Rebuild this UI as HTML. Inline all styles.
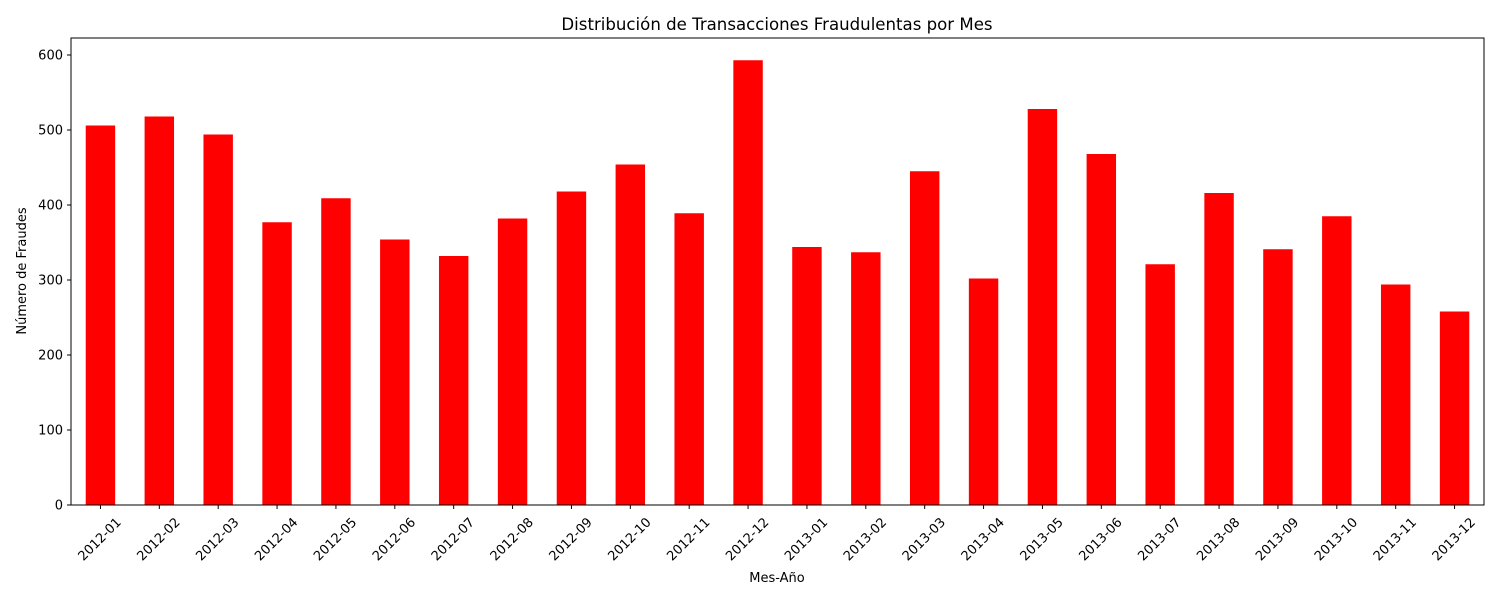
<!DOCTYPE html>
<html><head><meta charset="utf-8"><style>
html,body{margin:0;padding:0;background:#fff;}
svg{display:block;font-family:"DejaVu Sans","Liberation Sans",sans-serif;}
</style></head><body>
<svg id="chart" width="1500" height="600"></svg>
<script>
const categories=["2012-01","2012-02","2012-03","2012-04","2012-05","2012-06","2012-07","2012-08","2012-09","2012-10","2012-11","2012-12","2013-01","2013-02","2013-03","2013-04","2013-05","2013-06","2013-07","2013-08","2013-09","2013-10","2013-11","2013-12"];
const values=[506,518,494,377,409,354,332,382,418,454,389,593,344,337,445,302,528,468,321,416,341,385,294,258];
const yTicks=[0,100,200,300,400,500,600];
const NS="http://www.w3.org/2000/svg";
const svg=document.getElementById('chart');
const L=71,R=1484,T=38,B=505,yMax=600,yPx=450;
const step=(R-L)/categories.length;
function x(i){return L+step*(i+0.5);}
function y(v){return B-v/yMax*yPx;}
function mk(t,a,p){const e=document.createElementNS(NS,t);for(const k in a)e.setAttribute(k,a[k]);(p||svg).appendChild(e);return e;}
values.forEach((v,i)=>{
  const r=mk('rect',{x:x(i)-step*0.25,y:y(v),width:step*0.5,height:B-y(v),fill:'#ff0000'});
  
  
});
const frame=mk('rect',{x:L,y:T,width:R-L,height:B-T,fill:'none',stroke:'#000','stroke-width':1});


yTicks.forEach(t=>{
  mk('line',{x1:L-4,x2:L,y1:y(t),y2:y(t),stroke:'#000'});
  const tx=mk('text',{x:L-8,y:y(t)+4.5,'text-anchor':'end','font-size':13});
  tx.textContent=t;
  
  
});
categories.forEach((c,i)=>{
  mk('line',{x1:x(i),x2:x(i),y1:B,y2:B+4,stroke:'#000'});
  const cx=x(i)-1, cy=B+34;
  const tx=mk('text',{x:cx,y:cy+4.5,'text-anchor':'middle','font-size':13,transform:`rotate(-45 ${cx} ${cy})`});
  tx.textContent=c;
  
  
});
</script>
<svg style="position:absolute;left:0;top:0" width="1500" height="600">
<text x="777" y="30" text-anchor="middle" font-size="16.6">Distribución de Transacciones Fraudulentas por Mes</text>
<text x="777" y="582" text-anchor="middle" font-size="13">Mes-Año</text>
<text x="26" y="271" text-anchor="middle" font-size="13" transform="rotate(-90 26 271)">Número de Fraudes</text>
</svg>
</body></html>
